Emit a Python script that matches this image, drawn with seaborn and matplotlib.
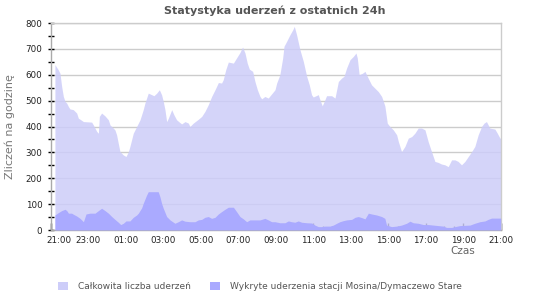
import numpy as np
import pandas as pd
import matplotlib
matplotlib.use("Agg")
import matplotlib.pyplot as plt
import matplotlib.transforms as mtransforms
from matplotlib.patches import Patch
from matplotlib.ticker import MultipleLocator
import seaborn as sns

# ---- data (hours after 21:00, counts per hour) ----
total_hours = [0.22, 0.40, 0.49, 0.58, 0.67, 0.76, 0.85, 0.94, 1.02, 1.20, 1.38, 1.47, 1.56, 1.74, 2.18,
               2.27, 2.45, 2.54, 2.59, 2.71, 2.89, 3.07, 3.16, 3.33, 3.42, 3.51, 3.60, 3.69, 3.87, 4.01,
               4.14, 4.22, 4.40, 4.58, 4.76, 4.93, 5.02, 5.20, 5.38, 5.50, 5.65, 5.79, 5.91, 6.00, 6.09,
               6.18, 6.27, 6.45, 6.57, 6.71, 6.89, 6.98, 7.16, 7.34, 7.42, 7.60, 7.87, 8.05, 8.22, 8.40,
               8.58, 8.76, 8.94, 9.11, 9.20, 9.33, 9.47, 9.74, 9.91, 10.09, 10.23, 10.36, 10.48, 10.59,
               10.77, 10.89, 11.02, 11.16, 11.25, 11.42, 11.60, 11.78, 11.96, 12.05, 12.22, 12.37, 12.44,
               12.58, 12.76, 12.91, 12.99, 13.11, 13.29, 13.47, 13.65, 13.79, 13.91, 14.00, 14.27, 14.36,
               14.48, 14.62, 14.71, 14.98, 15.16, 15.34, 15.51, 15.64, 15.78, 15.96, 16.14, 16.28, 16.35,
               16.45, 16.63, 16.76, 16.93, 17.11, 17.29, 17.47, 17.65, 17.82, 17.95, 18.09, 18.27, 18.45,
               18.54, 18.71, 18.89, 19.07, 19.25, 19.42, 19.60, 19.78, 19.96, 20.13, 20.31, 20.49, 20.67,
               20.84, 21.02, 21.20, 21.38, 21.56, 21.73, 21.91, 22.09, 22.27, 22.45, 22.62, 22.80, 22.98,
               23.11, 23.24, 23.42, 23.69, 23.82, 23.96, 24.00]
total_values = [639, 619, 606, 555, 516, 497, 490, 477, 468, 465, 452, 432, 428, 419, 417,
                406, 381, 374, 439, 452, 441, 426, 406, 394, 387, 368, 335, 303, 290, 284,
                303, 323, 374, 400, 426, 465, 490, 529, 523, 519, 529, 542, 523, 497, 465,
                419, 432, 465, 445, 426, 415, 410, 419, 413, 400, 413, 428, 439, 458, 484,
                516, 542, 570, 568, 581, 619, 649, 645, 665, 686, 707, 684, 645, 622,
                613, 574, 542, 516, 507, 516, 510, 526, 542, 568, 600, 665, 710,
                729, 755, 774, 787, 755, 697, 652, 594, 561, 523, 514, 523, 503,
                480, 503, 519, 519, 510, 574, 587, 594, 626, 658, 671, 684, 665,
                600, 606, 613, 587, 561, 548, 535, 516, 480, 413, 400, 387, 368,
                342, 303, 323, 355, 361, 374, 394, 394, 387, 342, 303, 265, 261,
                255, 252, 245, 271, 271, 265, 252, 265, 284, 303, 323, 368, 400,
                413, 419, 394, 390, 374, 355, 355]

station_hours = [0.22, 0.40, 0.58, 0.76, 0.85, 0.94, 1.11, 1.20, 1.38, 1.56, 1.74, 1.88, 2.09, 2.36,
                 2.54, 2.71, 2.89, 3.07, 3.25, 3.42, 3.60, 3.73, 3.87, 4.01, 4.22, 4.40, 4.58, 4.67,
                 4.85, 4.93, 5.11, 5.20, 5.38, 5.73, 5.82, 5.91, 6.00, 6.18, 6.36, 6.62, 6.80, 6.98,
                 7.16, 7.42, 7.69, 7.87, 8.05, 8.22, 8.40, 8.58, 8.76, 8.94, 9.11, 9.29, 9.47, 9.74,
                 9.91, 10.09, 10.27, 10.45, 10.62, 11.16, 11.42, 11.60, 11.78, 11.96, 12.22, 12.49,
                 12.67, 12.84, 13.02, 13.20, 13.38, 13.65, 13.91, 14.09, 14.27, 14.45, 14.62, 14.89,
                 15.07, 15.25, 15.42, 15.60, 15.78, 16.05, 16.23, 16.40, 16.58, 16.76, 16.94, 17.11,
                 17.38, 17.65, 17.82, 17.91, 18.18, 18.45, 18.71, 18.98, 19.16, 19.33, 19.60, 19.87,
                 20.13, 20.40, 20.67, 20.93, 21.11, 21.38, 21.56, 21.82, 22.09, 22.36, 22.62, 22.89,
                 23.16, 23.33, 23.51, 23.92, 24.00]
station_values = [58, 67, 75, 80, 75, 65, 65, 61, 54, 45, 32, 62, 65, 65,
                  75, 84, 75, 65, 52, 41, 30, 21, 26, 35, 35, 49, 58, 65,
                  86, 103, 135, 148, 148, 148, 129, 103, 84, 52, 39, 26, 32, 39,
                  34, 32, 32, 39, 41, 49, 52, 45, 49, 62, 71, 80, 88, 88,
                  71, 52, 43, 32, 39, 39, 45, 39, 32, 32, 28, 28,
                  35, 32, 30, 35, 30, 28, 27, 19, 13, 13, 15, 15,
                  19, 26, 32, 36, 39, 41, 49, 52, 48, 43, 65, 62,
                  58, 52, 45, 19, 13, 15, 19, 26, 34, 28, 26, 21,
                  21, 19, 17, 15, 10, 10, 13, 17, 18, 19, 26, 32,
                  35, 41, 46, 46, 46]

x_tick_labels = ["21:00", "23:00", "01:00", "03:00", "05:00", "07:00", "09:00",
                 "11:00", "13:00", "15:00", "17:00", "19:00", "21:00"]
series_names = ["Całkowita liczba uderzeń", "Wykryte uderzenia stacji Mosina/Dymaczewo Stare"]

total_df = pd.DataFrame({"hours": total_hours, "count": total_values})
station_df = pd.DataFrame({"hours": station_hours, "count": station_values})

# ---- style ----
sns.set_style("white")
plt.rcParams["font.family"] = ["DejaVu Sans"]

total_color = (205/255, 205/255, 249/255)
station_color = (170/255, 170/255, 255/255)

fig = plt.figure(figsize=(5.5, 3.0), dpi=100)
ax = fig.add_axes([50.8/550, 1-230/300, (500.7-50.8)/550, (230-23)/300])

ax.set_axisbelow(True)
ax.yaxis.grid(True, color="#cccccc", linewidth=1.0)
ax.xaxis.grid(False)

sns.lineplot(data=total_df, x="hours", y="count", ax=ax, linewidth=0, color=total_color)
ax.fill_between(total_df["hours"], 0, total_df["count"], color=total_color, alpha=0.85,
                linewidth=0, zorder=2)
sns.lineplot(data=station_df, x="hours", y="count", ax=ax, linewidth=0, color=station_color)
ax.fill_between(station_df["hours"], 0, station_df["count"], color=station_color, alpha=1.0,
                linewidth=0, zorder=3)

ax.set_xlim(0, 24)
ax.set_ylim(0, 800)
ax.set_xticks(np.arange(0, 25, 2))
ax.set_xticklabels(x_tick_labels)
ax.xaxis.set_minor_locator(MultipleLocator(0.5))
ax.yaxis.set_major_locator(MultipleLocator(100))
ax.yaxis.set_minor_locator(MultipleLocator(50))

ax.tick_params(axis="x", which="major", direction="in", length=5, width=1, color="black",
               labelsize=6.3, labelcolor="#222222", pad=4, top=False, bottom=True)
ax.tick_params(axis="x", which="minor", direction="in", length=3, width=1, color="black",
               top=False, bottom=True)
ax.tick_params(axis="y", which="major", direction="inout", length=4, width=1, color="black",
               labelsize=6.3, labelcolor="#222222", pad=4, left=True, right=False)
ax.tick_params(axis="y", which="minor", direction="inout", length=4, width=1, color="black",
               left=True, right=False)

# first x label shifted right like in the reference
first = ax.get_xticklabels()[0]
first.set_transform(first.get_transform() + mtransforms.ScaledTranslation(8/100, 0, fig.dpi_scale_trans))

for side in ["top", "right"]:
    ax.spines[side].set_color("#cccccc")
    ax.spines[side].set_linewidth(1)
for side in ["left", "bottom"]:
    ax.spines[side].set_color("#aaaaaa")
    ax.spines[side].set_linewidth(1)

ax.set_xlabel("")
ax.set_ylabel("Zliczeń na godzinę", fontsize=8, color="#777777")
ax.yaxis.set_label_coords((15-50.8)/449.9, 0.5)

fig.text(275/550, 1-10.5/300, "Statystyka uderzeń z ostatnich 24h", ha="center", va="center",
         fontsize=8, fontweight="bold", color="#555555")
fig.text(475/550, 1-251/300, "Czas", ha="right", va="center", fontsize=7.5, color="#666666")

handles = [Patch(facecolor=total_color, edgecolor="none"),
           Patch(facecolor=station_color, edgecolor="none")]
fig.legend(handles, series_names, loc="center left", bbox_to_anchor=(58/550, 1-286.5/300),
           ncol=2, frameon=False, fontsize=6.5, labelcolor="#555555", borderpad=0,
           borderaxespad=0, handlelength=1.1, handleheight=1.1, handletextpad=1.15,
           columnspacing=2.1)

fig.savefig("out.png", dpi=100)
